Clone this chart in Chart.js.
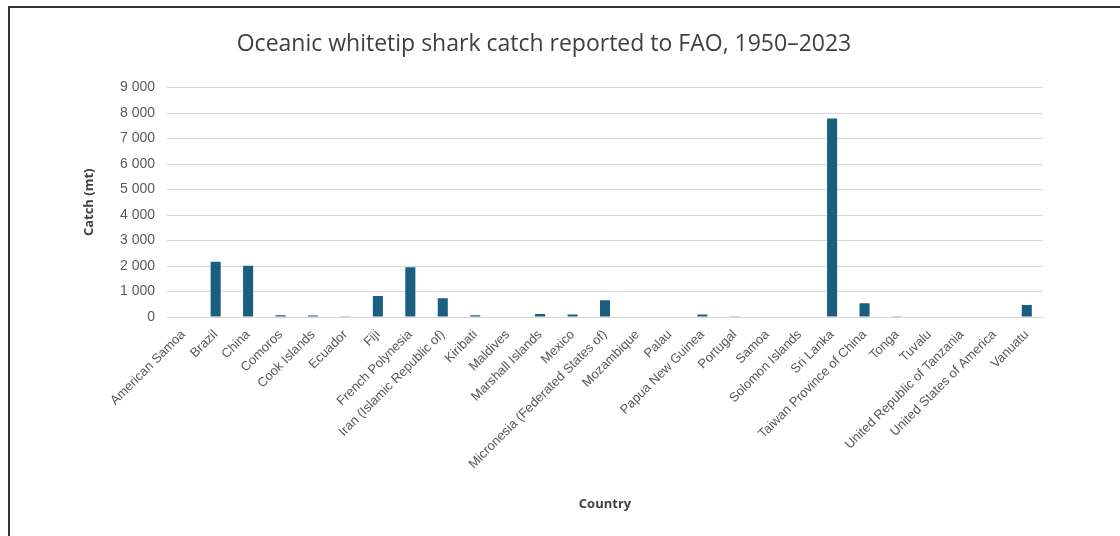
<!DOCTYPE html>
<html>
<head>
<meta charset="utf-8">
<script src="https://cdn.jsdelivr.net/npm/chart.js@4/dist/chart.umd.min.js"></script>
<style>
  html, body { margin: 0; padding: 0; background: #fff; }
  #wrap { position: relative; width: 1120px; height: 536px; overflow: hidden; }
  #frame { position: absolute; left: 8px; top: 6px; width: 1200px; height: 600px;
           border-left: 2px solid #333; border-top: 2px solid #333; box-sizing: border-box; }
  canvas { position: absolute; left: 0; top: 0; }
</style>
</head>
<body>
<div id="wrap">
  <div id="frame"></div>
  <canvas id="grafico" width="1120" height="536"></canvas>
</div>
<script>
// Dados do gráfico
const countries = [
  'American Samoa', 'Brazil', 'China', 'Comoros', 'Cook Islands', 'Ecuador', 'Fiji',
  'French Polynesia', 'Iran (Islamic Republic of)', 'Kiribati', 'Maldives', 'Marshall Islands',
  'Mexico', 'Micronesia (Federated States of)', 'Mozambique', 'Palau', 'Papua New Guinea',
  'Portugal', 'Samoa', 'Solomon Islands', 'Sri Lanka', 'Taiwan Province of China', 'Tonga',
  'Tuvalu', 'United Republic of Tanzania', 'United States of America', 'Vanuatu'
];
const catchMt = [
  0, 2170, 2010, 70, 60, 30, 820,
  1950, 740, 70, 15, 120,
  100, 660, 15, 0, 100,
  5, 0, 0, 7790, 540, 30,
  0, 0, 0, 470
];
const yTicks = [0, 1000, 2000, 3000, 4000, 5000, 6000, 7000, 8000, 9000];

// formata com espaço como separador de milhar
function formatar(v) {
  return String(v).replace(/\B(?=(\d{3})+$)/g, ' ');
}

const ctx = document.getElementById('grafico').getContext('2d');
new Chart(ctx, {
  type: 'bar',
  data: {
    labels: countries,
    datasets: [{
      data: catchMt,
      backgroundColor: '#1a5f80',
      barPercentage: 0.62,
      categoryPercentage: 0.5,
    }]
  },
  options: {
    responsive: false,
    animation: false,
    layout: { padding: { left: 45, right: 77, top: 0, bottom: 20 } },
    plugins: {
      legend: { display: false },
      tooltip: { enabled: false },
      title: {
        display: true,
        text: 'Oceanic whitetip shark catch reported to FAO, 1950–2023',
        color: '#404040',
        font: { family: 'Open Sans', size: 23, weight: 'normal' },
        padding: { top: 31, bottom: 29 }
      }
    },
    scales: {
      x: {
        grid: { display: false },
        border: { color: '#d9d9d9', width: 1 },
        ticks: {
          color: '#595959',
          font: { family: 'Liberation Sans', size: 13 },
          maxRotation: 45, minRotation: 45,
          autoSkip: false,
          padding: 2
        },
        title: {
          display: true,
          text: 'Country',
          color: '#404040',
          font: { family: 'Open Sans', size: 13, weight: 'bold' }
        },
        afterFit: function(scale) { scale.height = 199; }
      },
      y: {
        min: 0, max: 9000,
        afterBuildTicks: function(scale) { scale.ticks = yTicks.map(v => ({ value: v })); },
        grid: { color: '#d9d9d9', drawTicks: false },
        border: { display: false },
        ticks: {
          color: '#595959',
          font: { family: 'Liberation Sans', size: 14 },
          padding: 12,
          callback: v => formatar(v)
        },
        title: {
          display: true,
          text: 'Catch (mt)',
          color: '#404040',
          font: { family: 'Open Sans', size: 13, weight: 'bold' },
          padding: { top: 36, bottom: 4 }
        },
        afterFit: function(scale) { scale.width = 122; }
      }
    }
  }
});
</script>
</body>
</html>
